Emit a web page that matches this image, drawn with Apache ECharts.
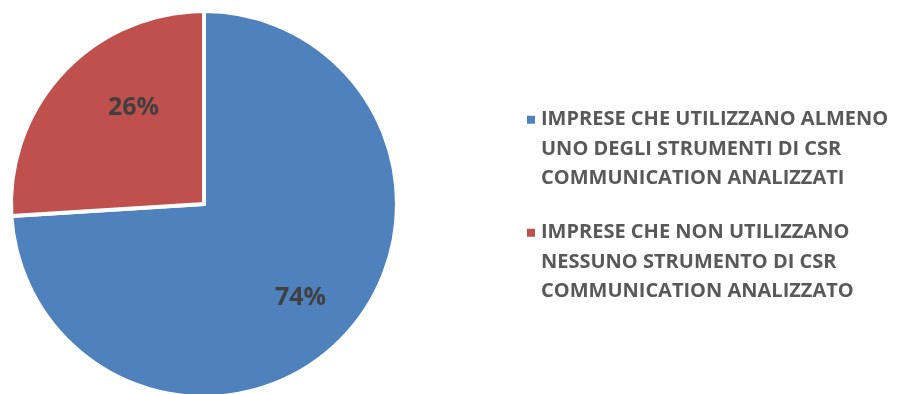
<!DOCTYPE html>
<html>
<head>
<meta charset="utf-8">
<script src="https://cdn.jsdelivr.net/npm/echarts@6/dist/echarts.min.js"></script>
<style>
  html, body { margin: 0; padding: 0; background: #fff; }
  #chart { width: 899px; height: 394px; }
</style>
</head>
<body>
<div id="chart"></div>
<script>
// categories and values
const categories = [
  'IMPRESE CHE UTILIZZANO ALMENO\nUNO DEGLI STRUMENTI DI CSR\nCOMMUNICATION ANALIZZATI',
  'IMPRESE CHE NON UTILIZZANO\nNESSUNO STRUMENTO DI CSR\nCOMMUNICATION ANALIZZATO'
]
const values = [74, 26]
const colors = ['#4F81BD', '#C0504D']
// nudge labels to where the original puts them
const labelOffsets = [[24, 26], [2, -28]]

const chart = echarts.init(document.getElementById('chart'))
chart.setOption({
  animation: false,
  legend: {
    orient: 'vertical',
    left: 520,
    top: 41,
    itemWidth: 10,
    itemHeight: 10,
    itemGap: -34.5,
    icon: 'rect',
    data: categories,
    // two blank lines on top so the marker lines up with the first text line
    formatter: name => '\n\n' + name,
    textStyle: {
      fontFamily: 'Open Sans',
      fontWeight: 'bold',
      fontSize: 20,
      color: '#595959',
      lineHeight: 29.5
    }
  },
  series: [{
    type: 'pie',
    center: [204, 204],
    radius: 193,
    startAngle: 90,
    clockwise: true,
    itemStyle: { borderColor: '#fff', borderWidth: 4 },
    label: {
      position: 'inside',
      formatter: '{d}%',
      fontFamily: 'Open Sans',
      fontWeight: 'bold',
      fontSize: 25,
      color: '#404040'
    },
    labelLine: { show: false },
    data: categories.map((name, i) => ({
      name: name,
      value: values[i],
      itemStyle: { color: colors[i] },
      label: { offset: labelOffsets[i] }
    }))
  }]
})
</script>
</body>
</html>
